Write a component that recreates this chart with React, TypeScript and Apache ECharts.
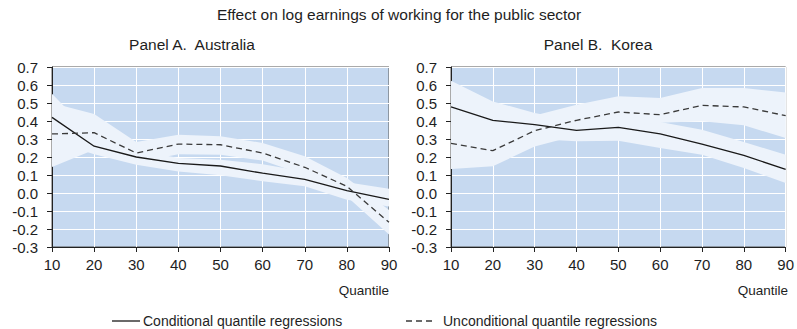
import React, { useEffect, useRef } from "react";
import * as echarts from "echarts";

// Quantiles on the horizontal axis
const quantiles = [10, 20, 30, 40, 50, 60, 70, 80, 90];

// Panel A: Australia
const condAU = [0.42, 0.26, 0.2, 0.165, 0.15, 0.11, 0.076, 0.013, -0.035];
const condLoAU = [0.29, 0.215, 0.157, 0.12, 0.098, 0.065, 0.037, -0.037, -0.075];
const condHiAU = [0.552, 0.31, 0.24, 0.195, 0.185, 0.16, 0.12, 0.06, 0.024];
const uncondAU = [0.328, 0.335, 0.222, 0.272, 0.268, 0.222, 0.143, 0.037, -0.163];
const uncondLoAU = [0.144, 0.24, 0.17, 0.215, 0.213, 0.18, 0.1, -0.02, -0.231];
const uncondHiAU = [0.5, 0.439, 0.283, 0.324, 0.315, 0.278, 0.204, 0.083, -0.095];

// Panel B: Korea
const condKR = [0.478, 0.404, 0.38, 0.348, 0.365, 0.328, 0.272, 0.209, 0.131];
const condLoKR = [0.34, 0.3, 0.3, 0.287, 0.29, 0.25, 0.213, 0.139, 0.056];
const condHiKR = [0.624, 0.509, 0.444, 0.4, 0.43, 0.395, 0.352, 0.283, 0.213];
const uncondKR = [0.276, 0.235, 0.346, 0.404, 0.45, 0.435, 0.487, 0.478, 0.43];
const uncondLoKR = [0.133, 0.148, 0.259, 0.32, 0.37, 0.39, 0.398, 0.376, 0.306];
const uncondHiKR = [0.42, 0.4, 0.43, 0.49, 0.537, 0.528, 0.583, 0.583, 0.559];

const CONDITIONAL = "Conditional quantile regressions";
const UNCONDITIONAL = "Unconditional quantile regressions";

const FONT = "Liberation Sans, Arial, sans-serif";
const PLOT_BG = "#c6d9f0";
const BAND = "#edf3fb";
const TEXT = "#1e1e1e";
const SOLID_COLOR = "#1a1a1a";
const DASH_COLOR = "#3a3a3a";
const DASH = [6, 4];

const pairs = (vals: number[]) => quantiles.map((q, i) => [q, vals[i]]);

// Confidence band drawn as one polygon: upper edge left to right, lower edge back.
function bandSeries(id: string, axis: number, lo: number[], hi: number[]) {
  return {
    type: "custom" as const,
    name: id,
    xAxisIndex: axis,
    yAxisIndex: axis,
    coordinateSystem: "cartesian2d",
    silent: true,
    clip: true,
    z: 1,
    data: [[quantiles[0], hi[0]]],
    renderItem: (_params: any, api: any) => {
      const upper = quantiles.map((q, i) => api.coord([q, hi[i]]));
      const lower = quantiles.map((q, i) => api.coord([q, lo[i]])).reverse();
      return {
        type: "polygon",
        shape: { points: upper.concat(lower) },
        style: { fill: BAND, stroke: "none" },
      };
    },
  };
}

function lineSeries(name: string, axis: number, vals: number[], dashed: boolean) {
  return {
    type: "line" as const,
    name,
    xAxisIndex: axis,
    yAxisIndex: axis,
    data: pairs(vals),
    symbol: "none",
    z: 3,
    lineStyle: dashed
      ? { color: DASH_COLOR, width: 1.3, type: DASH }
      : { color: SOLID_COLOR, width: 1.3, type: "solid" },
  };
}

const grids = [
  { left: 52, top: 67, width: 337, height: 180 },
  { left: 451, top: 67, width: 337, height: 180 },
];

function xAxis(i: number) {
  return {
    type: "value" as const,
    gridIndex: i,
    min: 10,
    max: 90,
    interval: 10,
    axisLine: { show: true, onZero: false, lineStyle: { color: "#222", width: 1 } },
    axisTick: { show: true, inside: false, length: 5, lineStyle: { color: "#222" } },
    axisLabel: { color: TEXT, fontSize: 15, fontFamily: FONT, margin: 10 },
    splitLine: { show: true, lineStyle: { color: "#ffffff", width: 1 } },
  };
}

function yAxis(i: number) {
  return {
    type: "value" as const,
    gridIndex: i,
    min: -0.3,
    max: 0.7,
    interval: 0.1,
    axisLine: { show: true, lineStyle: { color: "#222", width: 1 } },
    axisTick: { show: true, inside: false, length: 5, lineStyle: { color: "#222" } },
    axisLabel: {
      color: TEXT,
      fontSize: 15,
      fontFamily: FONT,
      margin: 14,
      formatter: (v: number) => (Math.abs(v) < 1e-9 ? "0.0" : v.toFixed(1)),
    },
    splitLine: { show: true, lineStyle: { color: "#ffffff", width: 1 } },
  };
}

function label(text: string, x: number, y: number, align: string, size: number) {
  return {
    type: "text" as const,
    x,
    y,
    silent: true,
    style: {
      text,
      align,
      verticalAlign: "middle",
      fill: TEXT,
      font: `${size}px ${FONT}`,
    },
  };
}

function legendKey(x: number, y: number, dashed: boolean) {
  return {
    type: "line" as const,
    silent: true,
    shape: { x1: x, y1: y, x2: x + 28, y2: y },
    style: {
      stroke: dashed ? DASH_COLOR : SOLID_COLOR,
      lineWidth: 1.3,
      lineDash: dashed ? DASH : null,
    },
  };
}

export default function App() {
  const ref = useRef<HTMLDivElement>(null);

  useEffect(() => {
    document.body.style.margin = "0";
    if (!ref.current) return;
    const chart = echarts.init(ref.current, null, { renderer: "svg" });

    chart.setOption({
      animation: false,
      backgroundColor: "#ffffff",
      grid: grids.map((g) => ({
        ...g,
        show: true,
        backgroundColor: PLOT_BG,
        borderColor: "#555555",
        borderWidth: 1,
      })),
      xAxis: [xAxis(0), xAxis(1)],
      yAxis: [yAxis(0), yAxis(1)],
      graphic: [
        label("Effect on log earnings of working for the public sector", 399, 14, "center", 15.5),
        label("Panel A.  Australia", 192, 44, "center", 15.5),
        label("Panel B.  Korea", 598, 44, "center", 15.5),
        label("Quantile", 389, 290, "right", 13.5),
        label("Quantile", 788, 290, "right", 13.5),
        legendKey(112, 321, false),
        label(CONDITIONAL, 143, 321, "left", 14),
        legendKey(406, 321, true),
        label(UNCONDITIONAL, 443, 321, "left", 14),
      ],
      series: [
        bandSeries("ci-cond-au", 0, condLoAU, condHiAU),
        bandSeries("ci-uncond-au", 0, uncondLoAU, uncondHiAU),
        bandSeries("ci-cond-kr", 1, condLoKR, condHiKR),
        bandSeries("ci-uncond-kr", 1, uncondLoKR, uncondHiKR),
        lineSeries(CONDITIONAL, 0, condAU, false),
        lineSeries(UNCONDITIONAL, 0, uncondAU, true),
        lineSeries(CONDITIONAL, 1, condKR, false),
        lineSeries(UNCONDITIONAL, 1, uncondKR, true),
      ],
    });

    return () => chart.dispose();
  }, []);

  return <div ref={ref} style={{ width: 797, height: 329 }} />;
}
